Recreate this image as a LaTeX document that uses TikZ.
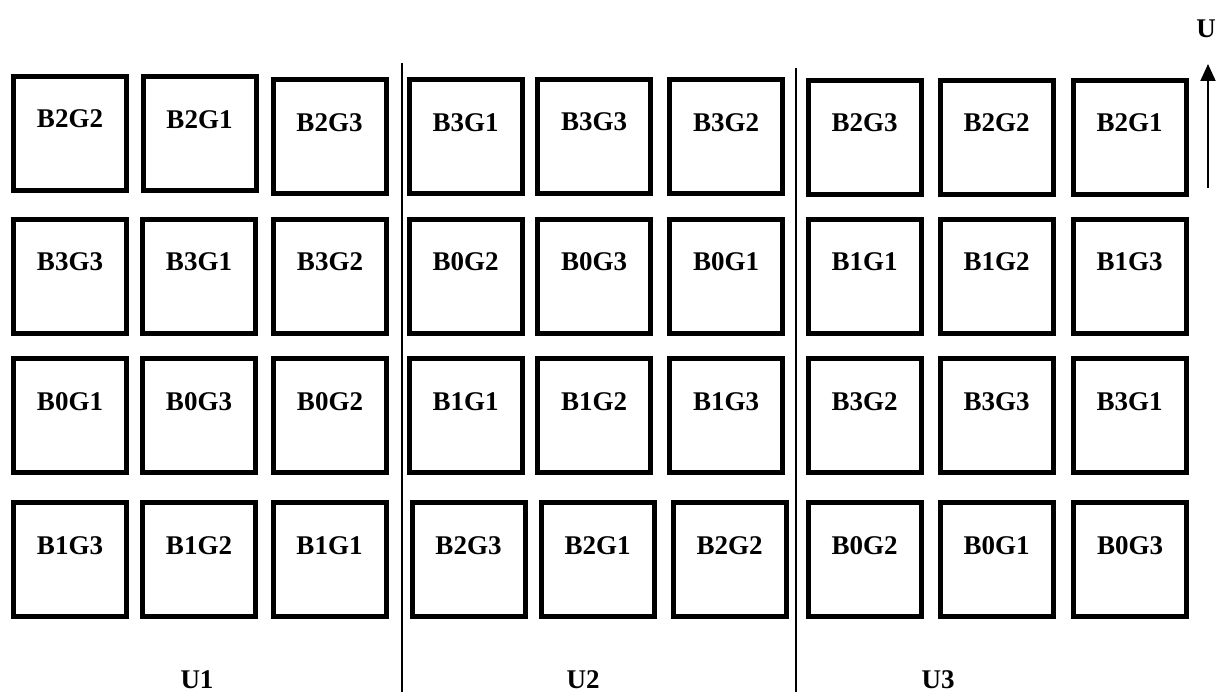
\documentclass[tikz,border=0pt]{standalone}
\usepackage{fontspec}
\setmainfont{Liberation Serif}
\usetikzlibrary{arrows.meta}
\tikzset{
  cell/.style={draw=black, line width=5pt, minimum width=113pt, minimum height=114pt,
    inner sep=0pt, text height=18pt, text depth=29pt,
    font=\fontsize{27}{32}\selectfont\bfseries},
  lbl/.style={anchor=base, inner sep=0pt, font=\fontsize{27}{32}\selectfont\bfseries},
  divider/.style={draw=black, line width=1.8pt},
  uparrow/.style={draw=black, line width=2pt, -{Triangle[length=17pt,width=15pt]}}
}
\newcommand\mycell[4]{\node[cell] (#1) at (#2,#3) {#4};}
\begin{document}
\begin{tikzpicture}[x=1pt,y=-1pt]
\useasboundingbox[fill=white] (0,0) rectangle (1229,692);
% row 1
\mycell{a11}{70}{133.5}{B2G2}
\mycell{a12}{199.5}{134}{B2G1}
\mycell{a13}{329.5}{137}{B2G3}
\mycell{a14}{465.5}{137}{B3G1}
\mycell{a15}{594}{136.5}{B3G3}
\mycell{a16}{726}{137}{B3G2}
\mycell{a17}{864.5}{137.5}{B2G3}
\mycell{a18}{996.5}{137.5}{B2G2}
\mycell{a19}{1129.5}{137.5}{B2G1}
% row 2
\mycell{a21}{70}{276.5}{B3G3}
\mycell{a22}{199}{276.5}{B3G1}
\mycell{a23}{330}{276.5}{B3G2}
\mycell{a24}{465.5}{276.5}{B0G2}
\mycell{a25}{594}{276.5}{B0G3}
\mycell{a26}{726}{276.5}{B0G1}
\mycell{a27}{864.5}{276.5}{B1G1}
\mycell{a28}{996.5}{276.5}{B1G2}
\mycell{a29}{1129.5}{276.5}{B1G3}
% row 3
\mycell{a31}{70}{415.5}{B0G1}
\mycell{a32}{199}{415.5}{B0G3}
\mycell{a33}{330}{415.5}{B0G2}
\mycell{a34}{465.5}{415.5}{B1G1}
\mycell{a35}{594}{415.5}{B1G2}
\mycell{a36}{726}{415.5}{B1G3}
\mycell{a37}{864.5}{415.5}{B3G2}
\mycell{a38}{996.5}{415.5}{B3G3}
\mycell{a39}{1129.5}{415.5}{B3G1}
% row 4
\mycell{a41}{70}{559.5}{B1G3}
\mycell{a42}{199}{559.5}{B1G2}
\mycell{a43}{329.5}{559.5}{B1G1}
\mycell{a44}{468.5}{559.5}{B2G3}
\mycell{a45}{597.5}{559.5}{B2G1}
\mycell{a46}{729.5}{559.5}{B2G2}
\mycell{a47}{864.5}{559.5}{B0G2}
\mycell{a48}{996.5}{559.5}{B0G1}
\mycell{a49}{1130}{559.5}{B0G3}
% dividers
\coordinate (d1t) at (402,63);
\coordinate (d1b) at (402,692);
\coordinate (d2t) at (796,68);
\coordinate (d2b) at (796,692);
\draw[divider] (d1t) -- (d1b);
\draw[divider] (d2t) -- (d2b);
% arrow
\coordinate (ab) at (1208,188);
\coordinate (at) at (1208,64);
\draw[uparrow] (ab) -- (at);
\node[lbl] (uu) at (1206,38) {U};
% unit labels
\node[lbl] (u1) at (197,688) {U1};
\node[lbl] (u2) at (583,688) {U2};
\node[lbl] (u3) at (938,688) {U3};
\end{tikzpicture}
\end{document}
